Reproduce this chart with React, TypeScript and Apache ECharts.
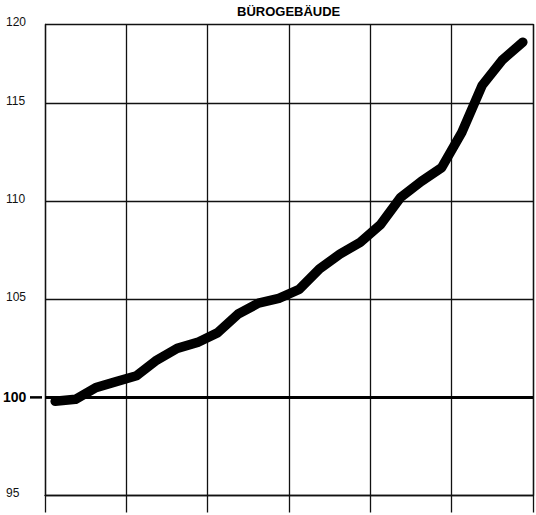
import React, { useEffect, useRef } from "react";
import * as echarts from "echarts";

// Quarterly index values (6 periods x 4 quarters), base = 100
const quarters: string[] = [
  "1-Q1", "1-Q2", "1-Q3", "1-Q4",
  "2-Q1", "2-Q2", "2-Q3", "2-Q4",
  "3-Q1", "3-Q2", "3-Q3", "3-Q4",
  "4-Q1", "4-Q2", "4-Q3", "4-Q4",
  "5-Q1", "5-Q2", "5-Q3", "5-Q4",
  "6-Q1", "6-Q2", "6-Q3", "6-Q4",
];
const indexValues: number[] = [
  99.8, 99.9, 100.5, 100.8,
  101.1, 101.9, 102.5, 102.8,
  103.3, 104.25, 104.8, 105.05,
  105.5, 106.55, 107.3, 107.9,
  108.8, 110.2, 111.0, 111.7,
  113.5, 115.9, 117.2, 118.1,
];
const title = "BÜROGEBÄUDE";
const yMin = 95;
const yMax = 119;
const yStep = 5;
const topLabel = 120;
const baseline = 100;

export default function App() {
  const ref = useRef<HTMLDivElement>(null);
  useEffect(() => {
    if (!ref.current) return;
    const chart = echarts.init(ref.current, null, { renderer: "svg" });
    const font = "'Liberation Sans', Arial, Helvetica, sans-serif";
    const gridLeft = 42;
    chart.setOption({
      animation: false,
      backgroundColor: "#ffffff",
      textStyle: { fontFamily: font },
      title: {
        text: title,
        left: 237,
        top: 5,
        padding: 0,
        textStyle: { fontSize: 13, fontWeight: "bold", color: "#000", fontFamily: font },
      },
      grid: { left: gridLeft, right: 3, top: 24.5, bottom: 19.5, containLabel: false },
      xAxis: {
        type: "category",
        data: quarters,
        boundaryGap: true,
        axisLine: { show: true, lineStyle: { color: "#111", width: 1.3 } },
        axisTick: { show: true, interval: 3, length: 17, lineStyle: { color: "#111", width: 1.3 } },
        axisLabel: { show: false },
        splitLine: { show: true, interval: 3, lineStyle: { color: "#111", width: 1.3 } },
      },
      yAxis: [
        {
          type: "value",
          min: yMin,
          max: yMax,
          interval: yStep,
          axisLine: { show: true, lineStyle: { color: "#111", width: 1.3 } },
          axisTick: { show: false },
          splitLine: { show: true, lineStyle: { color: "#111", width: 1.3 } },
          axisLabel: {
            align: "left",
            margin: gridLeft,
            color: "#111",
            fontFamily: font,
            formatter: (v: number) =>
              v === baseline
                ? "{b|" + baseline + "}"
                : "{n|" + (v > 115 ? topLabel : v) + "}",
            rich: {
              n: { fontSize: 12, color: "#111", padding: [0, 0, 5, 3], fontFamily: font },
              b: { fontSize: 14, fontWeight: "bold", color: "#000", fontFamily: font },
            },
          },
        },
        {
          type: "value",
          position: "right",
          min: yMin,
          max: yMax,
          interval: yStep,
          axisLine: { show: true, lineStyle: { color: "#111", width: 1.3 } },
          axisTick: { show: false },
          axisLabel: { show: false },
          splitLine: { show: false },
        },
      ],
      series: [
        {
          type: "line",
          data: indexValues,
          symbol: "none",
          smooth: false,
          lineStyle: { color: "#000", width: 9.5, cap: "round", join: "round" },
          markLine: {
            silent: true,
            symbol: "none",
            label: { show: false },
            lineStyle: { color: "#000", width: 3, type: "solid" },
            data: [{ yAxis: baseline }],
          },
        },
      ],
    });
    // short tick mark left of the y axis at the baseline value
    const py = chart.convertToPixel({ yAxisIndex: 0 }, baseline) as number;
    chart.setOption({
      graphic: [
        {
          type: "line",
          silent: true,
          shape: { x1: gridLeft - 12, y1: py, x2: gridLeft, y2: py },
          style: { stroke: "#000", lineWidth: 2.5 },
        },
      ],
    });
    return () => chart.dispose();
  }, []);
  return (
    <div
      ref={ref}
      style={{ position: "fixed", left: 0, top: 0, width: 536, height: 515, background: "#fff" }}
    />
  );
}
